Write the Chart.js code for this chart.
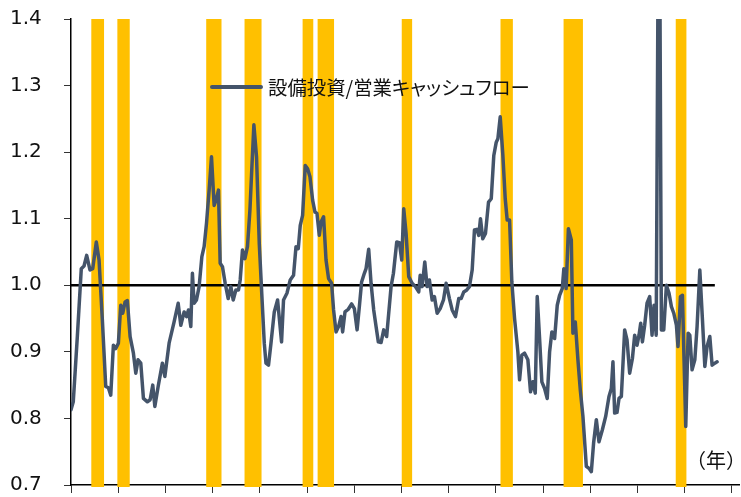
<!DOCTYPE html>
<html>
<head>
<meta charset="utf-8">
<script src="https://cdn.jsdelivr.net/npm/chart.js@4.4.1/dist/chart.umd.min.js"></script>
<style>
html, body { margin: 0; padding: 0; background: #fff; }
#wrap { position: relative; width: 741px; height: 497px; }
#legend { position: absolute; left: 210px; top: 75px; height: 24px; display: flex; align-items: center;
  font-family: "Noto Sans CJK JP", sans-serif; font-size: 19.4px; line-height: 24px; color: #111;
  font-feature-settings: "palt"; white-space: nowrap; }
#legend .swatch { width: 53px; height: 4px; background: #44546A; border-radius: 2px; margin-right: 5px; }
#unit { position: absolute; left: 686px; top: 448px; font-family: "Noto Sans CJK JP", sans-serif;
  font-size: 20px; line-height: 24px; color: #111; white-space: nowrap; }
</style>
</head>
<body>
<div id="wrap">
  <canvas id="myChart" width="741" height="497"></canvas>
  <div id="legend"><span class="swatch"></span><span>設備投資/営業キャッシュフロー</span></div>
  <div id="unit">（年）</div>
</div>
<script>
// quarterly observations (decimal year) and ratio
const years = [
  1955.00, 1955.24, 1955.67, 1956.09, 1956.38, 1956.66, 1957.01, 1957.30, 1957.68, 1957.97,
  1958.32, 1958.68, 1958.96, 1959.21, 1959.49, 1959.74, 1960.02, 1960.27, 1960.48, 1960.73,
  1960.97, 1961.26, 1961.61, 1961.86, 1962.10, 1962.39, 1962.67, 1963.09, 1963.38, 1963.66,
  1963.88, 1964.23, 1964.68, 1964.94, 1965.39, 1965.92, 1966.35, 1966.63, 1966.98, 1967.23,
  1967.44, 1967.69, 1967.86, 1968.04, 1968.29, 1968.57, 1968.86, 1969.10, 1969.35, 1969.63,
  1969.88, 1970.16, 1970.41, 1970.62, 1970.80, 1971.04, 1971.33, 1971.65, 1971.93, 1972.18,
  1972.46, 1972.74, 1972.92, 1973.16, 1973.42, 1973.69, 1973.95, 1974.16, 1974.37, 1974.65,
  1974.94, 1975.22, 1975.47, 1975.65, 1975.92, 1976.18, 1976.53, 1976.88, 1977.30, 1977.51,
  1977.87, 1978.22, 1978.57, 1978.83, 1979.07, 1979.28, 1979.53, 1979.81, 1980.06, 1980.31,
  1980.59, 1980.84, 1981.05, 1981.30, 1981.48, 1981.75, 1982.01, 1982.28, 1982.60, 1982.81,
  1983.07, 1983.34, 1983.60, 1983.77, 1984.02, 1984.37, 1984.72, 1985.01, 1985.30, 1985.54,
  1985.78, 1986.07, 1986.25, 1986.53, 1986.78, 1987.06, 1987.31, 1987.55, 1987.84, 1988.12,
  1988.43, 1988.90, 1989.15, 1989.50, 1989.78, 1990.03, 1990.24, 1990.49, 1990.77, 1991.13,
  1991.48, 1991.83, 1991.98, 1992.19, 1992.47, 1992.72, 1992.96, 1993.25, 1993.49, 1993.78,
  1994.10, 1994.45, 1994.73, 1995.08, 1995.37, 1995.72, 1996.07, 1996.32, 1996.60, 1996.92,
  1997.20, 1997.49, 1997.73, 1997.98, 1998.19, 1998.37, 1998.61, 1998.90, 1999.22, 1999.51,
  1999.78, 2000.04, 2000.21, 2000.46, 2000.74, 2000.99, 2001.20, 2001.45, 2001.69, 2001.98,
  2002.33, 2002.51, 2002.75, 2003.04, 2003.39, 2003.67, 2003.92, 2004.17, 2004.38, 2004.63,
  2004.87, 2005.16, 2005.44, 2005.69, 2005.93, 2006.22, 2006.50, 2006.75, 2007.03, 2007.20,
  2007.44, 2007.68, 2007.99, 2008.16, 2008.41, 2008.69, 2008.94, 2009.22, 2009.58, 2009.86,
  2010.11, 2010.35, 2010.64, 2010.92, 2011.28, 2011.63, 2011.98, 2012.23, 2012.40, 2012.58,
  2012.83, 2013.04, 2013.29, 2013.64, 2013.89, 2014.17, 2014.46, 2014.70, 2014.95, 2015.16,
  2015.34, 2015.52, 2015.76, 2016.01, 2016.29, 2016.54, 2016.75, 2016.98, 2017.28, 2017.53,
  2017.78, 2018.06, 2018.34, 2018.59, 2018.84, 2019.12, 2019.29, 2019.55, 2019.76, 2019.93,
  2020.11, 2020.36, 2020.54, 2020.78, 2021.07, 2021.31, 2021.60, 2021.88, 2022.13, 2022.37,
  2022.66, 2022.90, 2023.19, 2023.43
];
const ratio = [
  0.813, 0.825, 0.923, 1.025, 1.029, 1.045, 1.023, 1.025, 1.065, 1.038,
  0.948, 0.848, 0.846, 0.835, 0.910, 0.905, 0.913, 0.970, 0.958, 0.975,
  0.977, 0.923, 0.898, 0.868, 0.888, 0.883, 0.830, 0.825, 0.828, 0.850,
  0.818, 0.848, 0.883, 0.863, 0.913, 0.945, 0.973, 0.940, 0.960, 0.953,
  0.963, 0.938, 1.018, 0.973, 0.978, 0.998, 1.043, 1.058, 1.093, 1.143,
  1.193, 1.120, 1.130, 1.143, 1.033, 1.028, 1.003, 0.980, 0.998, 0.978,
  0.993, 0.993, 1.008, 1.053, 1.040, 1.058, 1.113, 1.178, 1.241, 1.193,
  1.063, 0.983, 0.913, 0.883, 0.880, 0.913, 0.960, 0.978, 0.915, 0.978,
  0.988, 1.008, 1.015, 1.058, 1.055, 1.090, 1.105, 1.180, 1.175, 1.163,
  1.128, 1.110, 1.108, 1.075, 1.095, 1.103, 1.038, 1.010, 1.003, 0.963,
  0.930, 0.938, 0.953, 0.930, 0.960, 0.964, 0.972, 0.965, 0.933, 0.968,
  1.005, 1.018, 1.025, 1.054, 1.003, 0.963, 0.938, 0.915, 0.914, 0.933,
  0.923, 0.998, 1.018, 1.065, 1.064, 1.038, 1.115, 1.078, 1.013, 1.003,
  0.998, 0.990, 1.015, 0.998, 1.035, 0.998, 1.008, 0.978, 0.983, 0.958,
  0.965, 0.978, 1.003, 0.980, 0.963, 0.953, 0.980, 0.980, 0.990, 0.993,
  0.998, 1.023, 1.083, 1.084, 1.075, 1.100, 1.070, 1.078, 1.125, 1.130,
  1.195, 1.215, 1.220, 1.253, 1.195, 1.130, 1.098, 1.098, 1.005, 0.950,
  0.900, 0.858, 0.895, 0.898, 0.888, 0.840, 0.855, 0.838, 0.983, 0.920,
  0.855, 0.845, 0.830, 0.900, 0.930, 0.920, 0.970, 0.985, 0.995, 1.025,
  0.995, 1.085, 1.068, 0.928, 0.945, 0.888, 0.843, 0.803, 0.728, 0.725,
  0.720, 0.763, 0.798, 0.765, 0.783, 0.803, 0.833, 0.845, 0.885, 0.808,
  0.809, 0.830, 0.833, 0.933, 0.918, 0.868, 0.890, 0.925, 0.910, 0.925,
  0.943, 0.915, 0.940, 0.973, 0.983, 0.925, 0.970, 0.925, 1.750, 0.933,
  0.933, 1.000, 0.988, 0.968, 0.958, 0.940, 0.908, 0.983, 0.985, 0.888,
  0.788, 0.928, 0.925, 0.873, 0.888, 0.938, 1.023, 0.948, 0.878, 0.908,
  0.923, 0.880, 0.883, 0.885
];

// recession periods (shaded)
const recessionStart = [1957.15, 1959.91, 1969.32, 1973.38, 1979.53, 1981.12, 1990.03, 2000.49, 2007.17, 2019.05];
const recessionEnd   = [1958.50, 1961.22, 1970.94, 1975.18, 1980.66, 1982.86, 1991.13, 2001.80, 2009.22, 2020.18];

const baseLevel = 1.0;
const baseFrom = 1955.0;
const baseTo = 2023.19;

const seriesPoints = years.map((y, i) => ({ x: y, y: ratio[i] }));

const recessionBands = {
  id: 'recessionBands',
  beforeDatasetsDraw(chart) {
    const ctx = chart.ctx;
    const xs = chart.scales.x;
    const area = chart.chartArea;
    ctx.save();
    ctx.fillStyle = '#FFC000';
    for (let i = 0; i < recessionStart.length; i++) {
      const x0 = xs.getPixelForValue(recessionStart[i]);
      const x1 = xs.getPixelForValue(recessionEnd[i]);
      ctx.fillRect(x0, area.top, x1 - x0, area.bottom - area.top + 2);
    }
    ctx.restore();
  }
};

const config = {
  type: 'line',
  data: {
    datasets: [
      {
        label: '設備投資/営業キャッシュフロー',
        data: seriesPoints,
        borderColor: '#44546A',
        borderWidth: 3.5,
        borderJoinStyle: 'round',
        borderCapStyle: 'round',
        pointRadius: 0,
        tension: 0,
        clip: 0
      },
      {
        label: 'base',
        data: [{ x: baseFrom, y: baseLevel }, { x: baseTo, y: baseLevel }],
        borderColor: '#000',
        borderWidth: 2.5,
        pointRadius: 0,
        tension: 0
      }
    ]
  },
  options: {
    responsive: false,
    animation: false,
    devicePixelRatio: 1,
    layout: { padding: { top: 19, right: 2, left: 10, bottom: 0 } },
    plugins: {
      legend: { display: false },
      tooltip: { enabled: false }
    },
    scales: {
      x: {
        type: 'linear',
        min: 1955,
        max: 2025.75,
        afterFit: (scale) => { scale.height = 12; },
        border: { color: '#000', width: 1.5 },
        grid: { drawOnChartArea: false, drawTicks: true, tickLength: 8, color: '#333' },
        ticks: { stepSize: 5, includeBounds: false, callback: () => '', maxRotation: 0, autoSkip: false }
      },
      y: {
        min: 0.7,
        max: 1.4,
        afterFit: (scale) => { scale.width = 61; },
        border: { color: '#000', width: 1.5 },
        grid: { drawOnChartArea: false, drawTicks: true, tickLength: 7, color: '#333' },
        ticks: {
          stepSize: 0.1,
          padding: 0,
          crossAlign: 'far',
          color: '#111',
          font: { family: 'DejaVu Sans', size: 20 },
          callback: (v) => v.toFixed(1)
        }
      }
    }
  },
  plugins: [recessionBands]
};

const myChart = new Chart(document.getElementById('myChart'), config);
</script>
</body>
</html>
